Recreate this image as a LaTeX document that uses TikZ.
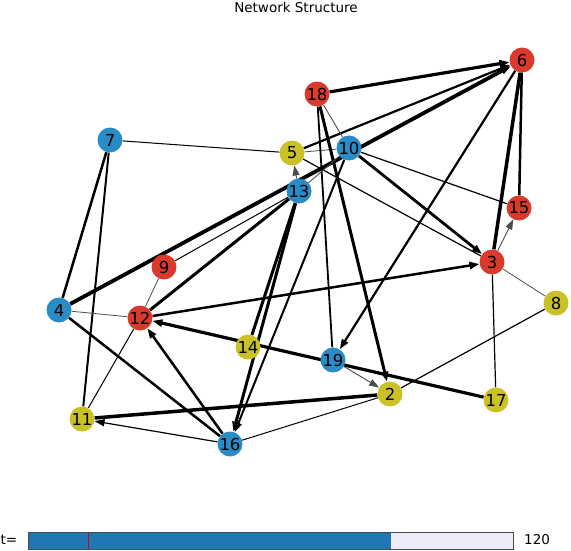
\documentclass[tikz,border=0pt]{standalone}
\usepackage{fontspec}
\setmainfont{DejaVu Sans}
\usetikzlibrary{arrows.meta}
\definecolor{nred}{HTML}{D93A2B}
\definecolor{nblue}{HTML}{2A8CC6}
\definecolor{nyel}{HTML}{C9C125}
\definecolor{barblue}{HTML}{1F77B4}
\definecolor{barbg}{HTML}{EDEDFA}
\pgfdeclarelayer{bg}
\pgfsetlayers{bg,main}
\tikzset{
  nd/.style={circle,minimum size=25pt,inner sep=0pt,font=\fontsize{16.5}{16.5}\selectfont},
  rn/.style={nd,fill=nred},
  bn/.style={nd,fill=nblue},
  yn/.style={nd,fill=nyel},
  ed/.style={black,line width=#1},
  gr/.style={black!70,line width=#1},
  ar/.style={-{Triangle[length=10pt,width=7pt]}},
}
\begin{document}
\begin{tikzpicture}[x=1pt,y=-1pt]
\useasboundingbox (0,0) rectangle (571,551);
\node[font=\fontsize{13.5}{13.5}\selectfont] (title) at (296,7) {Network Structure};
% nodes
\node[rn] (n6) at (522,60) {6};
\node[rn] (n18) at (317,94) {18};
\node[bn] (n7) at (110,140) {7};
\node[yn] (n5) at (292,153) {5};
\node[bn] (n10) at (349,148) {10};
\node[bn] (n13) at (299,191) {13};
\node[rn] (n15) at (519,208) {15};
\node[rn] (n9) at (164,267) {9};
\node[rn] (n3) at (492,262) {3};
\node[yn] (n8) at (556,303) {8};
\node[bn] (n4) at (59,310) {4};
\node[rn] (n12) at (140,318) {12};
\node[yn] (n14) at (248,347) {14};
\node[bn] (n19) at (333,360) {19};
\node[yn] (n2) at (390,394) {2};
\node[yn] (n17) at (496,400) {17};
\node[yn] (n11) at (82,419) {11};
\node[bn] (n16) at (230,444) {16};
\begin{pgfonlayer}{bg}
\draw[ed=3.2,ar] (n18) -- (n6);
\draw[ed=2.2,ar] (n5) -- (n6);
\draw[ed=3.8,ar] (n4) -- (n6);
\draw[ed=3.5] (n3) -- (n6);
\draw[ed=2.5] (n15) -- (n6);
\draw[ed=2.2,ar] (n6) -- (n19);
\draw[ed=1.0] (n7) -- (n5);
\draw[ed=2.5] (n7) -- (n4);
\draw[ed=2.0] (n7) -- (n11);
\draw[gr=0.9,ar] (n13) -- (n5);
\draw[gr=0.8] (n5) -- (n10);
\draw[ed=1.2] (n5) -- (n3);
\draw[gr=0.9] (n18) -- (n10);
\draw[ed=1.8] (n18) -- (n19);
\draw[ed=3.0,ar] (n18) -- (n2);
\draw[ed=2.8,ar] (n10) -- (n3);
\draw[ed=1.2] (n10) -- (n15);
\draw[ed=2.0,ar] (n10) -- (n16);
\draw[gr=0.9] (n13) -- (n10);
\draw[ed=1.0] (n9) -- (n13);
\draw[ed=3.0] (n12) -- (n13);
\draw[ed=3.0] (n14) -- (n13);
\draw[ed=3.0,ar] (n13) -- (n16);
\draw[ed=2.5,ar] (n12) -- (n3);
\draw[gr=0.8] (n12) -- (n9);
\draw[gr=0.8] (n12) -- (n4);
\draw[ed=1.0] (n12) -- (n11);
\draw[ed=3.2,ar] (n17) -- (n12);
\draw[ed=2.5,ar] (n16) -- (n12);
\draw[ed=2.5] (n4) -- (n16);
\draw[ed=1.2,ar] (n16) -- (n11);
\draw[ed=3.5] (n2) -- (n11);
\draw[ed=1.0] (n16) -- (n2);
\draw[gr=0.9,ar] (n19) -- (n2);
\draw[ed=1.2] (n2) -- (n8);
\draw[gr=0.9,ar] (n3) -- (n15);
\draw[gr=0.8] (n3) -- (n8);
\draw[ed=1.2] (n3) -- (n17);
\end{pgfonlayer}
% slider
\fill[barbg] (28,532) rectangle (513,549);
\fill[barblue] (28,532) rectangle (391,549);
\draw[red!85!black,line width=1pt] (88,532) -- (88,549);
\draw[black!70,line width=0.8pt] (28,532) rectangle (513,549);
\node[font=\fontsize{13.5}{13.5}\selectfont,anchor=west,inner sep=0pt] (tl) at (0.5,540) {t=};
\node[font=\fontsize{13.5}{13.5}\selectfont,anchor=west,inner sep=0pt] (tv) at (524,540) {120};
\end{tikzpicture}
\end{document}
